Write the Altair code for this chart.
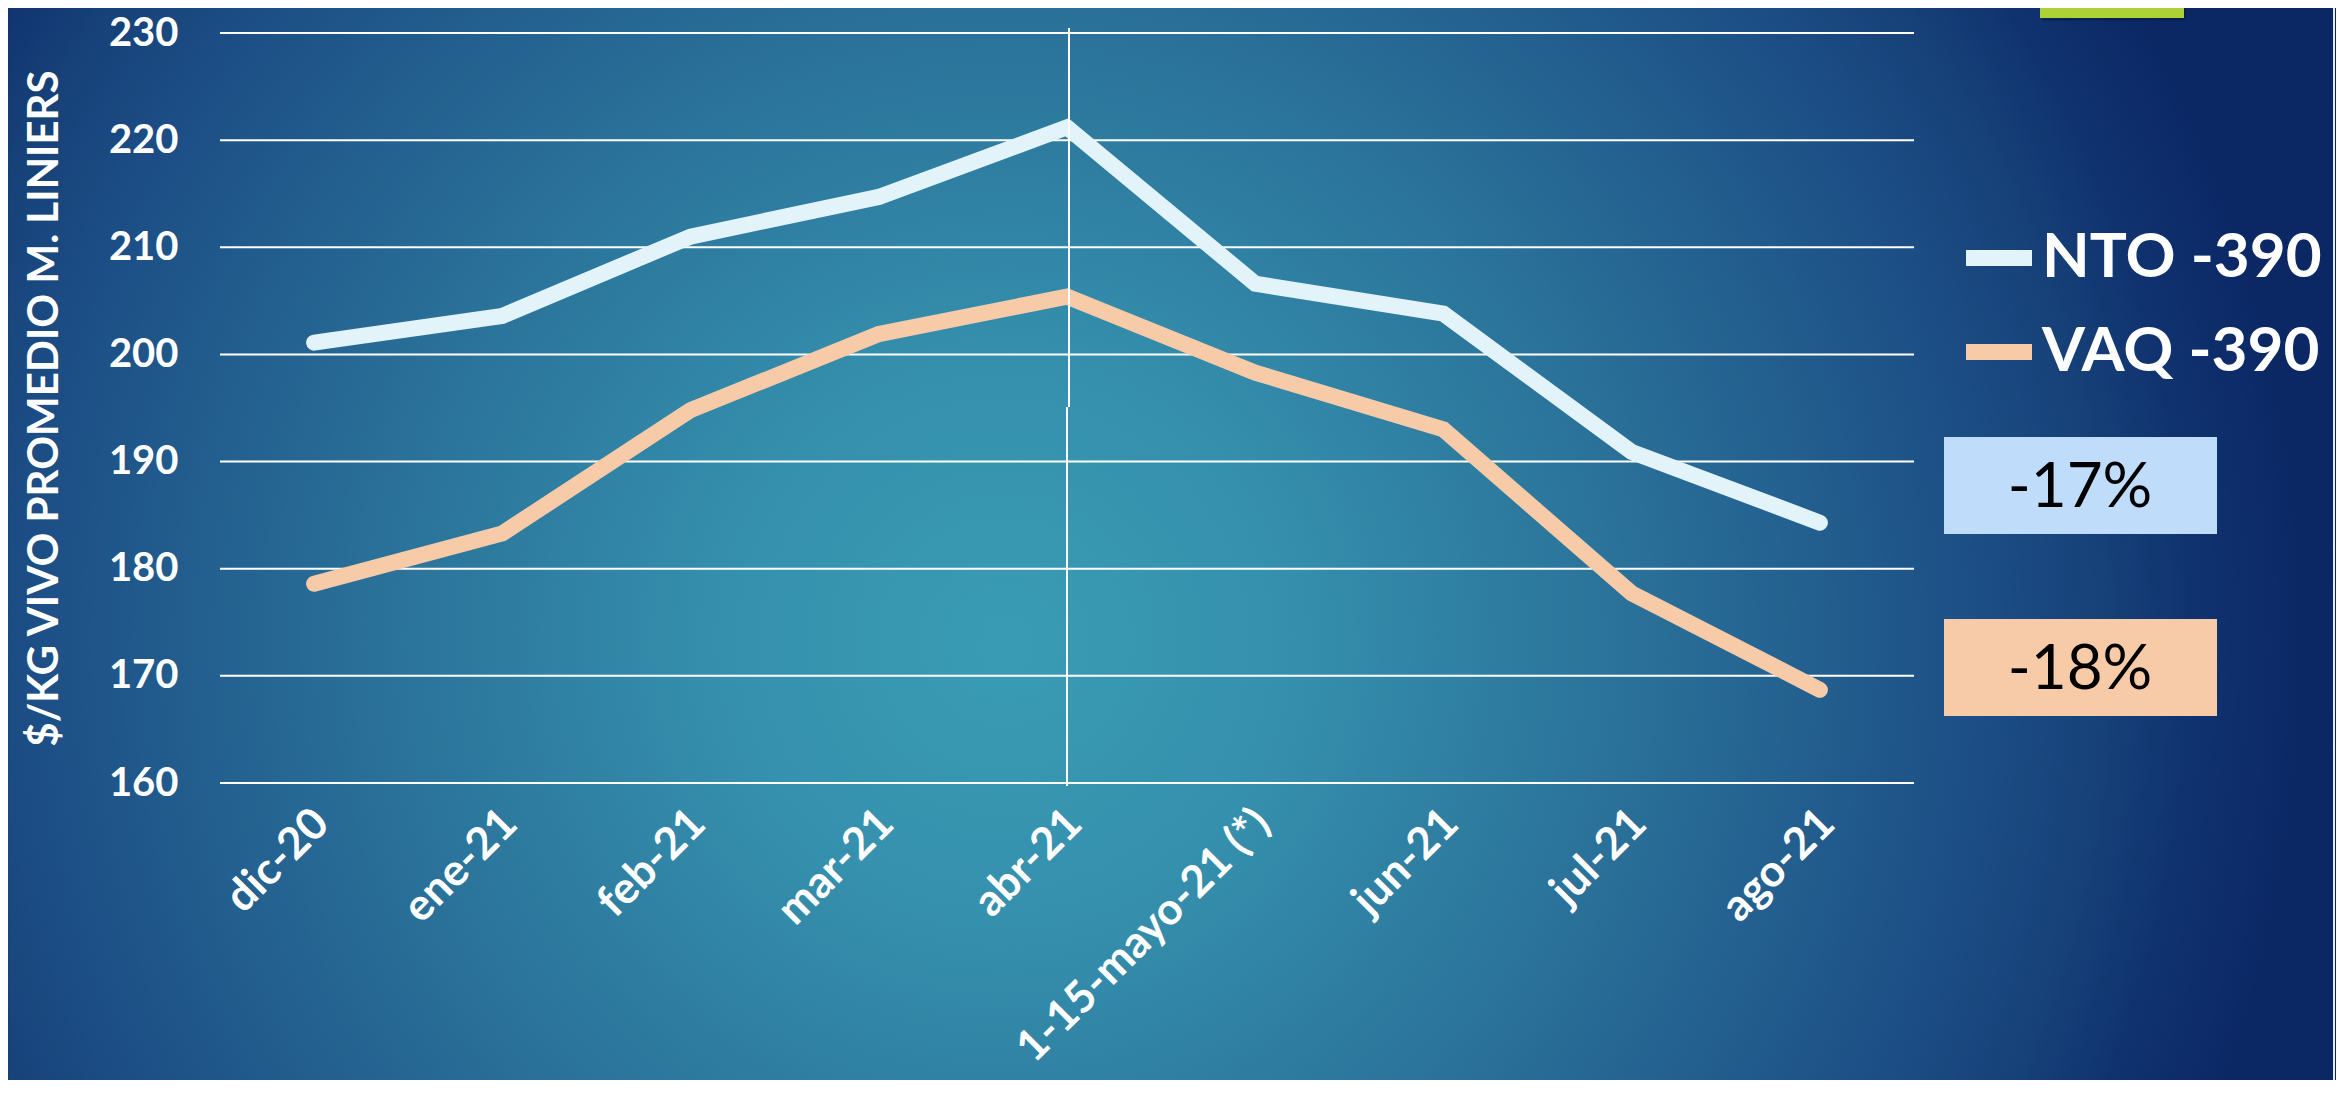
import altair as alt
import pandas as pd

# ---------------- data ----------------
categories = ["dic-20", "ene-21", "feb-21", "mar-21", "abr-21",
              "1-15-mayo-21 (*)", "jun-21", "jul-21", "ago-21"]
nto = [201.1, 203.6, 211.0, 214.7, 221.2, 206.6, 203.8, 190.9, 184.3]
vaq = [178.6, 183.3, 194.8, 201.9, 205.4, 198.3, 193.0, 177.7, 168.7]
series_names = ["NTO -390", "VAQ -390"]
series_colors = ["#e2f3fa", "#f7cba7"]
y_ticks = [160, 170, 180, 190, 200, 210, 220, 230]
pct_labels = ["-17%", "-18%"]
pct_colors = ["#bfdcfb", "#f8cba8"]
marker_cat = ["abr-21"]
y_title = "$/KG VIVO PROMEDIO M. LINIERS"

W, H = 1694, 750
PAD_L, PAD_T, PAD_R, PAD_B = 212, 25, 422, 297
TOT_W = PAD_L + W + PAD_R
TOT_H = PAD_T + H + PAD_B
FONT = "Lato"

df = pd.DataFrame({
    "cat": categories * 2,
    "value": nto + vaq,
    "series": [series_names[0]] * len(nto) + [series_names[1]] * len(vaq),
})
df_grid = pd.DataFrame({"value": y_ticks})
df_mark = pd.DataFrame({"cat": marker_cat})
df_one = pd.DataFrame({"k": [0]})

x_scale = alt.Scale(type="point", domain=categories, padding=0.5)
y_scale = alt.Scale(domain=[160, 230], nice=False, zero=False)

x_axis = alt.Axis(labelAngle=-45, labelAlign="right", labelBaseline="top",
                  labelPadding=18, labelOffset=-8, labelFontSize=44, labelFont=FONT,
                  labelFontWeight="bold", labelColor="white", labelLimit=600,
                  labelOverlap=False, domain=False, ticks=False, grid=False,
                  title=None, zindex=1)
y_axis = alt.Axis(values=y_ticks, labelFontSize=40, labelFont=FONT,
                  labelFontWeight="bold", labelColor="white", labelPadding=42,
                  ticks=False, domain=False, grid=False,
                  title=y_title, titleFont=FONT, titleFontSize=42,
                  titleFontWeight="bold", titleColor="white", titleAngle=-90,
                  titleX=-163, titleY=H / 2, titleAlign="center",
                  titleBaseline="alphabetic", zindex=1)

# square background rect (so the radial gradient is circular and in known units)
S = TOT_W
bg_top = -PAD_T - (S - TOT_H) / 2
bg_gradient = {
    "gradient": "radial",
    "x1": 0.428, "y1": 0.5425, "r1": 0,
    "x2": 0.428, "y2": 0.5425, "r2": 0.6,
    "stops": [
        {"offset": 0.0, "color": "#3a9cb4"},
        {"offset": 0.2, "color": "#3590ad"},
        {"offset": 0.45, "color": "#2a7199"},
        {"offset": 0.70, "color": "#1c4e85"},
        {"offset": 0.79, "color": "#164078"},
        {"offset": 0.85, "color": "#10336f"},
        {"offset": 0.93, "color": "#0b2865"},
        {"offset": 1.0, "color": "#0b2764"},
    ],
}

background = alt.Chart(df_one).mark_rect(color=bg_gradient).encode(
    x=alt.value(-PAD_L), x2=alt.value(-PAD_L + S),
    y=alt.value(bg_top), y2=alt.value(bg_top + S),
)

grid = alt.Chart(df_grid).mark_rule(color="white", strokeWidth=2).encode(
    y=alt.Y("value:Q", scale=y_scale, axis=y_axis),
)

lines = alt.Chart(df).mark_line(strokeWidth=16, strokeCap="round", strokeJoin="miter").encode(
    x=alt.X("cat:N", sort=categories, scale=x_scale, axis=x_axis),
    y=alt.Y("value:Q", scale=y_scale, axis=y_axis),
    color=alt.Color("series:N", sort=series_names,
                    scale=alt.Scale(domain=series_names, range=series_colors),
                    legend=alt.Legend(orient="none", legendX=1738, legendY=184, title=None,
                                      labelFont=FONT, labelFontSize=62, labelFontWeight="bold",
                                      labelColor="white", symbolType="stroke",
                                      symbolStrokeWidth=16, symbolSize=4356, labelLimit=600,
                                      rowPadding=21, labelOffset=2, padding=0, zindex=1)),
    detail="series:N",
)

marker_top = alt.Chart(df_mark).mark_rule(color="white", strokeWidth=2, xOffset=2).encode(
    x=alt.X("cat:N", scale=x_scale, axis=x_axis), y=alt.value(-5), y2=alt.value(374),
)
marker_bot = alt.Chart(df_mark).mark_rule(color="white", strokeWidth=2).encode(
    x=alt.X("cat:N", scale=x_scale, axis=x_axis), y=alt.value(374), y2=alt.value(H + 3),
)

box1 = alt.Chart(df_one).mark_rect(color=pct_colors[0]).encode(
    x=alt.value(1724), x2=alt.value(1997), y=alt.value(404), y2=alt.value(501))
box2 = alt.Chart(df_one).mark_rect(color=pct_colors[1]).encode(
    x=alt.value(1724), x2=alt.value(1997), y=alt.value(586), y2=alt.value(683))
txt1 = alt.Chart(df_one).mark_text(text=pct_labels[0], font=FONT, fontSize=62,
                                   color="black", align="center", baseline="middle").encode(
    x=alt.value(1860), y=alt.value(455))
txt2 = alt.Chart(df_one).mark_text(text=pct_labels[1], font=FONT, fontSize=62,
                                   color="black", align="center", baseline="middle").encode(
    x=alt.value(1860), y=alt.value(637))

green_shadow = alt.Chart(df_one).mark_rect(color="#061a3a", opacity=0.45).encode(
    x=alt.value(1822), x2=alt.value(1966), y=alt.value(-PAD_T), y2=alt.value(-12))
green = alt.Chart(df_one).mark_rect(color="#acd235").encode(
    x=alt.value(1820), x2=alt.value(1964), y=alt.value(-PAD_T), y2=alt.value(-15))

edge = alt.Chart(df_one).mark_rule(color="#e4ecf7", strokeWidth=2).encode(
    x=alt.value(2114), y=alt.value(-PAD_T), y2=alt.value(H + PAD_B))

chart = alt.layer(
    background, grid, lines, marker_top, marker_bot,
    box1, box2, txt1, txt2, green_shadow, green, edge,
).properties(
    width=W, height=H,
    padding={"left": PAD_L, "top": PAD_T, "right": PAD_R, "bottom": PAD_B},
    autosize=alt.AutoSizeParams(type="none"),
).configure_view(stroke=None)

chart.save("out.html", embed_options={"renderer": "svg", "actions": False})
